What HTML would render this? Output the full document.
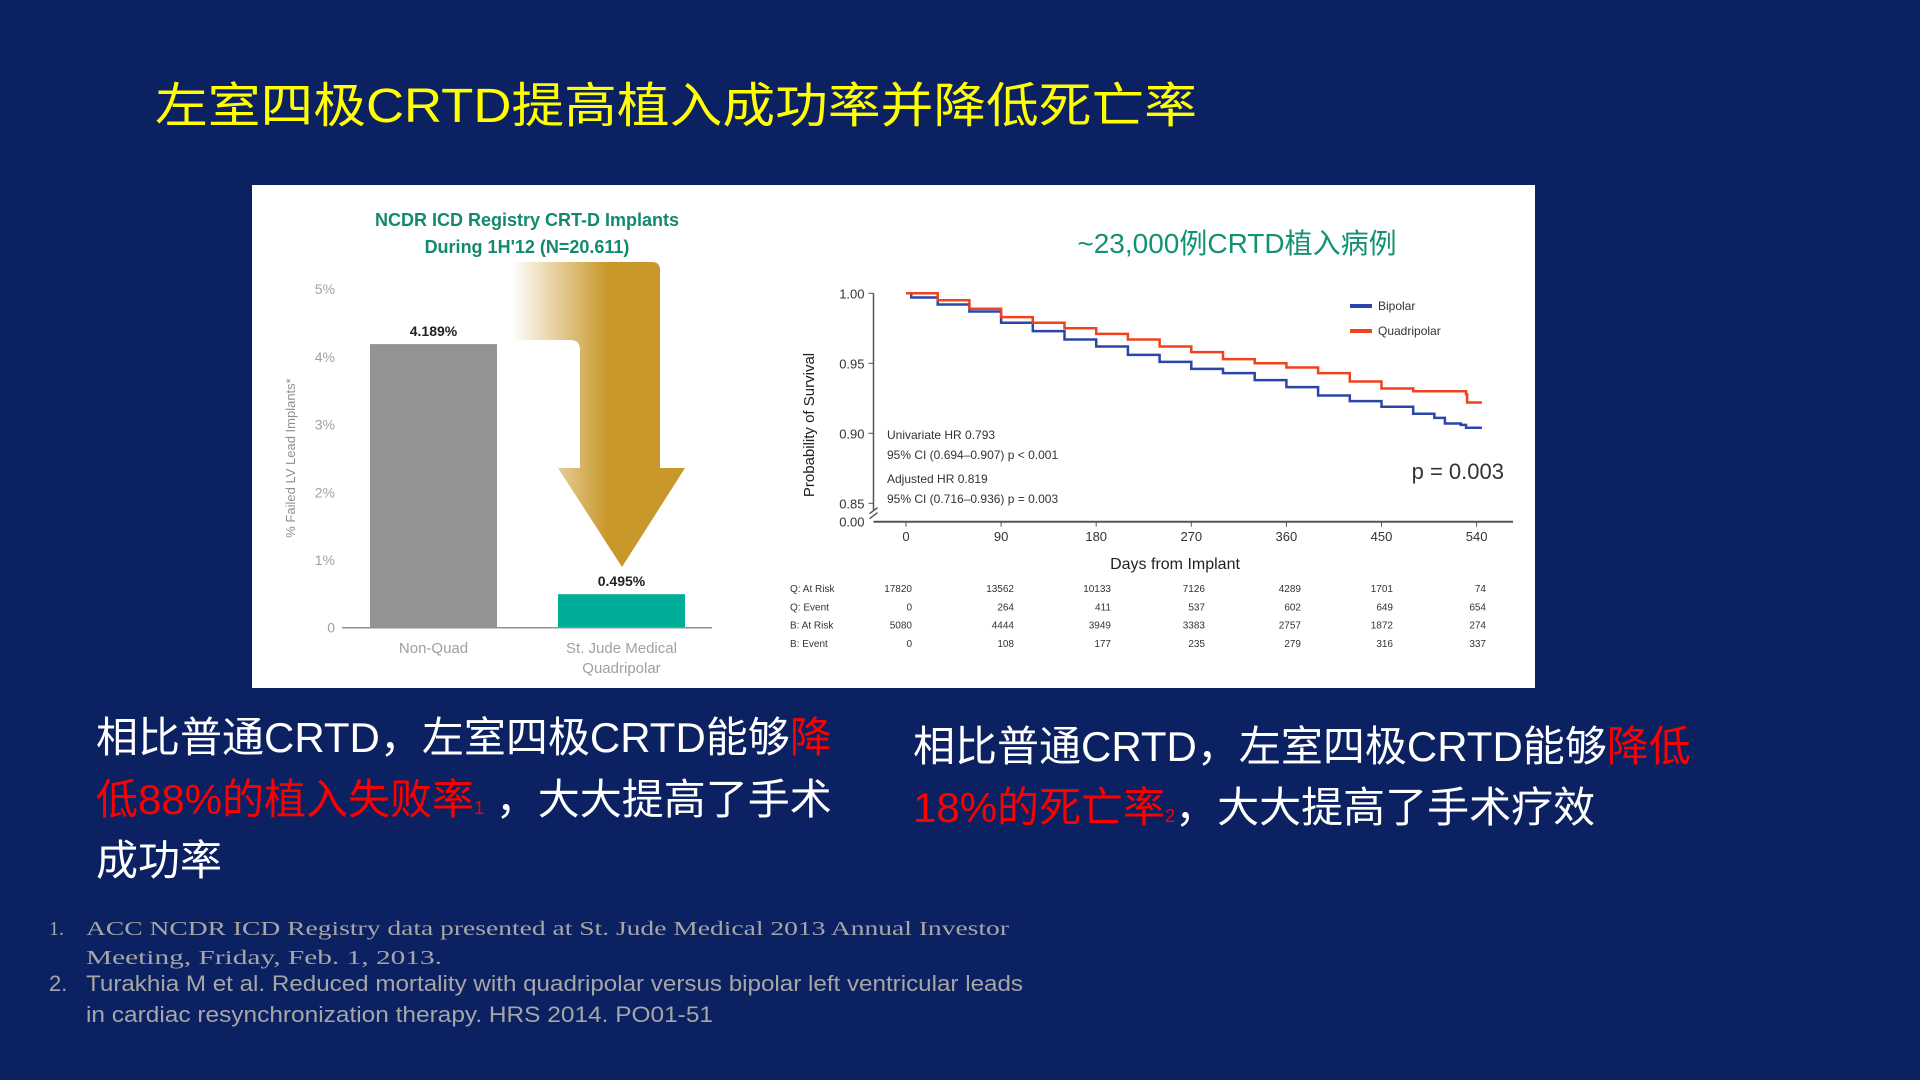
<!DOCTYPE html>
<html><head><meta charset="utf-8">
<style>
html,body{margin:0;padding:0;background:#0b2161;}
svg{display:block}
.cjk{font-family:"Liberation Sans","Noto Sans CJK SC",sans-serif;}
</style></head>
<body>
<svg id="root" width="1920" height="1080" viewBox="0 0 1920 1080" xmlns="http://www.w3.org/2000/svg">
<defs>
<linearGradient id="goldfade" x1="0" x2="1" y1="0" y2="0">
<stop offset="0" stop-color="#ffffff"/><stop offset="0.55" stop-color="#c9982b"/><stop offset="1" stop-color="#c9982b"/>
</linearGradient>
</defs>
<rect x="0" y="0" width="1920" height="1080" fill="#0b2161"/>
<text x="155" y="122" class="cjk" font-size="48" fill="#ffff00" textLength="1042" lengthAdjust="spacingAndGlyphs">左室四极CRTD提高植入成功率并降低死亡率</text>

<rect x="252" y="185" width="1283" height="503" fill="#ffffff"/>

<g id="bar-chart"></g>
<g id="surv-chart"></g>

<text class="cjk" font-size="42" fill="#ffffff">
<tspan x="96" y="752">相比普通CRTD，左室四极CRTD能够<tspan fill="#ff0000">降</tspan></tspan>
<tspan x="96" y="814" fill="#ff0000">低88%的植入失败率<tspan font-size="18">1</tspan><tspan fill="#ffffff">  ，大大提高了手术</tspan></tspan>
<tspan x="96" y="875">成功率</tspan>
</text>
<text class="cjk" font-size="42" fill="#ffffff">
<tspan x="913" y="761">相比普通CRTD，左室四极CRTD能够<tspan fill="#ff0000">降低</tspan></tspan>
<tspan x="913" y="822" fill="#ff0000">18%的死亡率<tspan font-size="18">2</tspan><tspan fill="#ffffff">，大大提高了手术疗效</tspan></tspan>
</text>

<g fill="#a6a6a6">
<text x="49" y="935" font-family="Liberation Serif, serif" font-size="20">1.</text>
<text x="86" y="935" font-family="Liberation Serif, serif" font-size="20" textLength="923" lengthAdjust="spacingAndGlyphs">ACC NCDR ICD Registry data presented at St.  Jude Medical 2013 Annual Investor</text>
<text x="86" y="964" font-family="Liberation Serif, serif" font-size="20" textLength="356" lengthAdjust="spacingAndGlyphs">Meeting, Friday, Feb. 1, 2013.</text>
<text x="49" y="991" font-family="Liberation Sans, sans-serif" font-size="22">2.</text>
<text x="86" y="991" font-family="Liberation Sans, sans-serif" font-size="22" textLength="937" lengthAdjust="spacingAndGlyphs">Turakhia M et al.  Reduced mortality with quadripolar versus bipolar left ventricular leads</text>
<text x="86" y="1022" font-family="Liberation Sans, sans-serif" font-size="22" textLength="627" lengthAdjust="spacingAndGlyphs">in cardiac resynchronization therapy.  HRS 2014.  PO01-51</text>
</g>
</svg>

<script>
// ---- Bar chart data ----
const barCategories = ["Non-Quad", "St. Jude Medical|Quadripolar"];
const barValues = [4.189, 0.495];
const barValueLabels = ["4.189%", "0.495%"];
const barTicks = [0, 1, 2, 3, 4, 5];
const barTickLabels = ["0", "1%", "2%", "3%", "4%", "5%"];

// ---- Survival chart data ----
const survDaysQ = [0,30,60,90,120,150,180,210,240,270,300,330,360,390,420,450,480,510,530,531,545];
const survQuad  = [1.0,0.995,0.989,0.983,0.979,0.975,0.971,0.967,0.962,0.958,0.953,0.950,0.947,0.943,0.937,0.932,0.930,0.930,0.928,0.922,0.922];
const survDaysB = [0,5,30,60,90,120,150,180,210,240,270,300,330,360,390,420,450,480,500,510,525,530,545];
const survBip   = [1.0,0.997,0.992,0.987,0.979,0.973,0.967,0.962,0.956,0.951,0.946,0.943,0.938,0.933,0.927,0.923,0.919,0.914,0.911,0.907,0.906,0.904,0.904];
const survXTicks = [0,90,180,270,360,450,540];
const survYTicks = [0.85,0.90,0.95,1.00];
const survYTickLabels = ["0.85","0.90","0.95","1.00"];
const riskLabels = ["Q: At Risk","Q: Event","B: At Risk","B: Event"];
const riskQAtRisk = [17820,13562,10133,7126,4289,1701,74];
const riskQEvent = [0,264,411,537,602,649,654];
const riskBAtRisk = [5080,4444,3949,3383,2757,1872,274];
const riskBEvent = [0,108,177,235,279,316,337];

const NS = "http://www.w3.org/2000/svg";
function mk(parent, tag, attrs, text){
  const e = document.createElementNS(NS, tag);
  for (const k in attrs) e.setAttribute(k, attrs[k]);
  if (text !== undefined) e.textContent = text;
  parent.appendChild(e);
  return e;
}

// ===== Bar chart =====
(function(){
  const g = document.getElementById('bar-chart');
  const y0 = 627.7, perUnit = 67.7;
  const yScale = v => y0 - v * perUnit;
  const barX = [370, 558], barW = 127;
  let t = mk(g,'text',{x:527,y:226,'text-anchor':'middle','font-family':'Liberation Sans, sans-serif','font-size':18,'font-weight':'bold',fill:'#13896d'},'NCDR ICD Registry CRT-D Implants');
  
  
  t = mk(g,'text',{x:527,y:253,'text-anchor':'middle','font-family':'Liberation Sans, sans-serif','font-size':18,'font-weight':'bold',fill:'#13896d'},"During 1H'12 (N=20.611)");
  
  
  // arrow
  const a = mk(g,'path',{d:'M512,262 L652,262 Q660,262 660,270 L660,468 L685,468 L622,567 L558,468 L580,468 L580,350 Q580,340 570,340 L512,340 Z',fill:'url(#goldfade)'});
  
  
  barTicks.forEach((v,i)=>{
    const tl = mk(g,'text',{x:335,y:yScale(v)+5,'text-anchor':'end','font-family':'Liberation Sans, sans-serif','font-size':14,fill:'#a0a0a0'},barTickLabels[i]);
    
    
  });
  const yt = mk(g,'text',{x:0,y:0,transform:'translate(295,458) rotate(-90)','text-anchor':'middle','font-family':'Liberation Sans, sans-serif','font-size':13,fill:'#909090'},'% Failed LV Lead Implants*');
  
  
  const colors = ['#939393','#00ad99'];
  barValues.forEach((v,i)=>{
    const r = mk(g,'rect',{x:barX[i],y:yScale(v),width:barW,height:y0-yScale(v),fill:colors[i]});
    
    
    const vl = mk(g,'text',{x:barX[i]+barW/2,y:yScale(v)-8,'text-anchor':'middle','font-family':'Liberation Sans, sans-serif','font-size':14,'font-weight':'bold',fill:'#222'},barValueLabels[i]);
    
    
    barCategories[i].split('|').forEach((s,j)=>{
      const cl = mk(g,'text',{x:barX[i]+barW/2,y:653+j*20,'text-anchor':'middle','font-family':'Liberation Sans, sans-serif','font-size':15,fill:'#a0a0a0'},s);
      
      
    });
  });
  const ax = mk(g,'line',{x1:342,x2:712,y1:y0,y2:y0,stroke:'#909090','stroke-width':1.5});
  
  
})();

// ===== Survival chart =====
(function(){
  const g = document.getElementById('surv-chart');
  const x0 = 906, dayPx = 95.1/90;
  const xS = d => x0 + d*dayPx;
  const yS = p => 293.3 + (1.0 - p) * 1400;
  const axisY = 521.7, axisX = 873.5;
  const f = 'Liberation Sans Narrow, Liberation Sans, sans-serif';
  let t = mk(g,'text',{x:1237,y:253,'text-anchor':'middle',class:'cjk','font-size':28,fill:'#139173'},'~23,000例CRTD植入病例');
  
  
  const ya = mk(g,'path',{d:`M${axisX},${yS(1.0)} L${axisX},${axisY-12} M${axisX-4},${axisY-8} L${axisX+4},${axisY-14} M${axisX-4},${axisY-3} L${axisX+4},${axisY-9}`,stroke:'#555',fill:'none','stroke-width':1.5});
  
  
  const xa = mk(g,'line',{x1:axisX,x2:1513,y1:axisY,y2:axisY,stroke:'#555','stroke-width':2});
  
  
  survYTicks.forEach((v,i)=>{
    const tk = mk(g,'line',{x1:axisX-5,x2:axisX,y1:yS(v),y2:yS(v),stroke:'#555'});
    
    
    const tl = mk(g,'text',{x:axisX-9,y:yS(v)+5,'text-anchor':'end','font-family':f,'font-size':13,fill:'#333'},survYTickLabels[i]);
    
    
  });
  const zl = mk(g,'text',{x:axisX-9,y:axisY+5,'text-anchor':'end','font-family':f,'font-size':13,fill:'#333'},'0.00');
  
  
  survXTicks.forEach(d=>{
    const tk = mk(g,'line',{x1:xS(d),x2:xS(d),y1:axisY,y2:axisY+5,stroke:'#555'});
    
    
    const tl = mk(g,'text',{x:xS(d),y:541,'text-anchor':'middle','font-family':f,'font-size':13,fill:'#333'},String(d));
    
    
  });
  const xt = mk(g,'text',{x:1175,y:569,'text-anchor':'middle','font-family':f,'font-size':16,fill:'#222'},'Days from Implant');
  
  
  const yt = mk(g,'text',{x:0,y:0,transform:'translate(814,425) rotate(-90)','text-anchor':'middle','font-family':f,'font-size':15,fill:'#222'},'Probability of Survival');
  
  
  function stepPath(days, vals){
    let d = `M${xS(days[0])},${yS(vals[0])}`;
    for (let i=1;i<days.length;i++){ d += ` L${xS(days[i])},${yS(vals[i-1])} L${xS(days[i])},${yS(vals[i])}`; }
    return d;
  }
  const lb = mk(g,'path',{d:stepPath(survDaysB,survBip),stroke:'#2b46a8',fill:'none','stroke-width':2.5});
  
  
  const lq = mk(g,'path',{d:stepPath(survDaysQ,survQuad),stroke:'#f0421d',fill:'none','stroke-width':2.5});
  
  
  [['Bipolar','#2b46a8',306],['Quadripolar','#f0421d',331]].forEach(([n,c,y])=>{
    const l = mk(g,'line',{x1:1350,x2:1372,y1:y,y2:y,stroke:c,'stroke-width':4});
    
    
    const tx = mk(g,'text',{x:1378,y:y+4,'font-family':f,'font-size':12,fill:'#333'},n);
    
    
  });
  const stats = [['Univariate HR 0.793',439],['95% CI (0.694\u20130.907)  p < 0.001',459],['Adjusted HR 0.819',483],['95% CI (0.716\u20130.936)  p = 0.003',503]];
  stats.forEach(([s,y])=>{
    const tx = mk(g,'text',{x:887,y:y,'font-family':f,'font-size':12,fill:'#333'},s);
    
    
  });
  const pv = mk(g,'text',{x:1504,y:479,'text-anchor':'end','font-family':'Liberation Sans, sans-serif','font-size':22,fill:'#333'},'p = 0.003');
  
  
  const rows = [riskQAtRisk,riskQEvent,riskBAtRisk,riskBEvent];
  const colX = [912,1014,1111,1205,1301,1393,1486];
  rows.forEach((row,ri)=>{
    const y = 592 + ri*18.3;
    const rl = mk(g,'text',{x:790,y:y,'font-family':f,'font-size':10,fill:'#333'},riskLabels[ri]);
    
    
    row.forEach((v,ci)=>{
      const c = mk(g,'text',{x:colX[ci],y:y,'text-anchor':'end','font-family':f,'font-size':10,fill:'#333'},String(v));
      
      
    });
  });
})();
</script>
</body></html>
